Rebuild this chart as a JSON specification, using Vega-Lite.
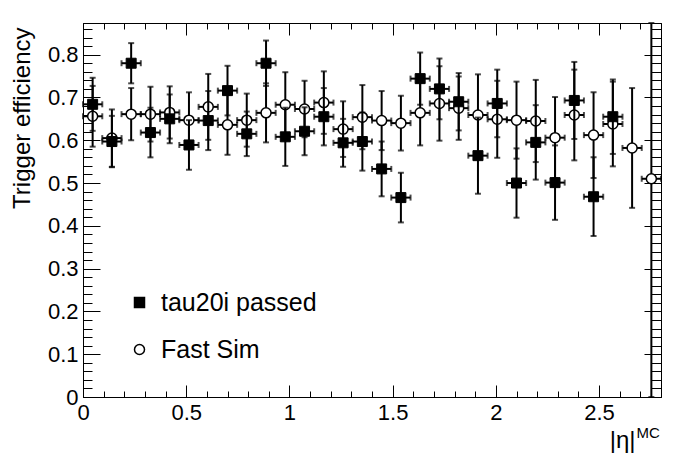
{
  "$schema": "https://vega.github.io/schema/vega-lite/v6.json",
  "autosize": {"type": "none"},
  "padding": {"left": 83, "top": 23, "right": 35, "bottom": 75},
  "width": 578,
  "height": 374,
  "background": "white",
  "config": {
    "view": {"stroke": null},
    "font": "Liberation Sans",
    "axis": {"grid": false, "domainColor": "black", "tickColor": "black", "labelColor": "black", "titleColor": "black", "domainWidth": 1, "tickWidth": 1, "labelFont": "Liberation Sans", "titleFont": "Liberation Sans", "titleFontWeight": "normal", "labelFlush": false, "labelOverlap": false}
  },
  "datasets": {
    "trig": [
      {"eta": 0.0467, "eff": 0.684, "err": 0.062, "xerr": 0.0467, "series": "tau20i passed"},
      {"eta": 0.14, "eff": 0.597, "err": 0.060, "xerr": 0.0467, "series": "tau20i passed"},
      {"eta": 0.2333, "eff": 0.780, "err": 0.047, "xerr": 0.0467, "series": "tau20i passed"},
      {"eta": 0.3267, "eff": 0.618, "err": 0.058, "xerr": 0.0467, "series": "tau20i passed"},
      {"eta": 0.42, "eff": 0.650, "err": 0.057, "xerr": 0.0467, "series": "tau20i passed"},
      {"eta": 0.5133, "eff": 0.589, "err": 0.058, "xerr": 0.0467, "series": "tau20i passed"},
      {"eta": 0.6067, "eff": 0.646, "err": 0.069, "xerr": 0.0467, "series": "tau20i passed"},
      {"eta": 0.70, "eff": 0.716, "err": 0.058, "xerr": 0.0467, "series": "tau20i passed"},
      {"eta": 0.7933, "eff": 0.615, "err": 0.052, "xerr": 0.0467, "series": "tau20i passed"},
      {"eta": 0.8867, "eff": 0.780, "err": 0.053, "xerr": 0.0467, "series": "tau20i passed"},
      {"eta": 0.98, "eff": 0.608, "err": 0.068, "xerr": 0.0467, "series": "tau20i passed"},
      {"eta": 1.0733, "eff": 0.621, "err": 0.056, "xerr": 0.0467, "series": "tau20i passed"},
      {"eta": 1.1667, "eff": 0.655, "err": 0.067, "xerr": 0.0467, "series": "tau20i passed"},
      {"eta": 1.26, "eff": 0.594, "err": 0.056, "xerr": 0.0467, "series": "tau20i passed"},
      {"eta": 1.3533, "eff": 0.597, "err": 0.068, "xerr": 0.0467, "series": "tau20i passed"},
      {"eta": 1.4467, "eff": 0.533, "err": 0.064, "xerr": 0.0467, "series": "tau20i passed"},
      {"eta": 1.54, "eff": 0.466, "err": 0.058, "xerr": 0.0467, "series": "tau20i passed"},
      {"eta": 1.6333, "eff": 0.744, "err": 0.061, "xerr": 0.0467, "series": "tau20i passed"},
      {"eta": 1.7267, "eff": 0.720, "err": 0.071, "xerr": 0.0467, "series": "tau20i passed"},
      {"eta": 1.82, "eff": 0.690, "err": 0.067, "xerr": 0.0467, "series": "tau20i passed"},
      {"eta": 1.9133, "eff": 0.564, "err": 0.089, "xerr": 0.0467, "series": "tau20i passed"},
      {"eta": 2.0067, "eff": 0.686, "err": 0.079, "xerr": 0.0467, "series": "tau20i passed"},
      {"eta": 2.10, "eff": 0.500, "err": 0.081, "xerr": 0.0467, "series": "tau20i passed"},
      {"eta": 2.1933, "eff": 0.595, "err": 0.087, "xerr": 0.0467, "series": "tau20i passed"},
      {"eta": 2.2867, "eff": 0.501, "err": 0.087, "xerr": 0.0467, "series": "tau20i passed"},
      {"eta": 2.38, "eff": 0.693, "err": 0.090, "xerr": 0.0467, "series": "tau20i passed"},
      {"eta": 2.4733, "eff": 0.468, "err": 0.092, "xerr": 0.0467, "series": "tau20i passed"},
      {"eta": 2.5667, "eff": 0.655, "err": 0.087, "xerr": 0.0467, "series": "tau20i passed"}
    ],
    "fast": [
      {"eta": 0.0467, "eff": 0.656, "err": 0.071, "xerr": 0.0467, "series": "Fast Sim"},
      {"eta": 0.14, "eff": 0.605, "err": 0.067, "xerr": 0.0467, "series": "Fast Sim"},
      {"eta": 0.2333, "eff": 0.661, "err": 0.061, "xerr": 0.0467, "series": "Fast Sim"},
      {"eta": 0.3267, "eff": 0.661, "err": 0.064, "xerr": 0.0467, "series": "Fast Sim"},
      {"eta": 0.42, "eff": 0.665, "err": 0.061, "xerr": 0.0467, "series": "Fast Sim"},
      {"eta": 0.5133, "eff": 0.647, "err": 0.065, "xerr": 0.0467, "series": "Fast Sim"},
      {"eta": 0.6067, "eff": 0.678, "err": 0.077, "xerr": 0.0467, "series": "Fast Sim"},
      {"eta": 0.70, "eff": 0.636, "err": 0.070, "xerr": 0.0467, "series": "Fast Sim"},
      {"eta": 0.7933, "eff": 0.647, "err": 0.062, "xerr": 0.0467, "series": "Fast Sim"},
      {"eta": 0.8867, "eff": 0.664, "err": 0.069, "xerr": 0.0467, "series": "Fast Sim"},
      {"eta": 0.98, "eff": 0.683, "err": 0.076, "xerr": 0.0467, "series": "Fast Sim"},
      {"eta": 1.0733, "eff": 0.673, "err": 0.066, "xerr": 0.0467, "series": "Fast Sim"},
      {"eta": 1.1667, "eff": 0.688, "err": 0.073, "xerr": 0.0467, "series": "Fast Sim"},
      {"eta": 1.26, "eff": 0.626, "err": 0.065, "xerr": 0.0467, "series": "Fast Sim"},
      {"eta": 1.3533, "eff": 0.654, "err": 0.075, "xerr": 0.0467, "series": "Fast Sim"},
      {"eta": 1.4467, "eff": 0.646, "err": 0.069, "xerr": 0.0467, "series": "Fast Sim"},
      {"eta": 1.54, "eff": 0.640, "err": 0.064, "xerr": 0.0467, "series": "Fast Sim"},
      {"eta": 1.6333, "eff": 0.664, "err": 0.076, "xerr": 0.0467, "series": "Fast Sim"},
      {"eta": 1.7267, "eff": 0.686, "err": 0.087, "xerr": 0.0467, "series": "Fast Sim"},
      {"eta": 1.82, "eff": 0.675, "err": 0.074, "xerr": 0.0467, "series": "Fast Sim"},
      {"eta": 1.9133, "eff": 0.659, "err": 0.095, "xerr": 0.0467, "series": "Fast Sim"},
      {"eta": 2.0067, "eff": 0.649, "err": 0.090, "xerr": 0.0467, "series": "Fast Sim"},
      {"eta": 2.10, "eff": 0.647, "err": 0.090, "xerr": 0.0467, "series": "Fast Sim"},
      {"eta": 2.1933, "eff": 0.645, "err": 0.096, "xerr": 0.0467, "series": "Fast Sim"},
      {"eta": 2.2867, "eff": 0.606, "err": 0.095, "xerr": 0.0467, "series": "Fast Sim"},
      {"eta": 2.38, "eff": 0.659, "err": 0.106, "xerr": 0.0467, "series": "Fast Sim"},
      {"eta": 2.4733, "eff": 0.612, "err": 0.100, "xerr": 0.0467, "series": "Fast Sim"},
      {"eta": 2.5667, "eff": 0.638, "err": 0.099, "xerr": 0.0467, "series": "Fast Sim"},
      {"eta": 2.66, "eff": 0.582, "err": 0.140, "xerr": 0.0467, "series": "Fast Sim"},
      {"eta": 2.7533, "eff": 0.510, "err": 0.510, "xerr": 0.0467, "series": "Fast Sim"}
    ]
  },
  "resolve": {"axis": {"x": "independent", "y": "independent"}},
  "layer": [
    {
      "data": {"name": "fast"},
      "mark": {"type": "errorbar", "color": "black", "ticks": {"size": 6, "thickness": 2, "color": "black"}, "rule": {"strokeWidth": 2, "color": "black"}},
      "encoding": {
        "x": {"field": "eta", "type": "quantitative", "scale": {"domain": [0, 2.8], "nice": false, "zero": false},
          "axis": {"orient": "bottom", "values": [0, 0.5, 1, 1.5, 2, 2.5], "format": "~g", "tickSize": -12, "labelPadding": 17, "labelFontSize": 22, "title": "|η|", "titleFontSize": 24, "titleAlign": "right", "titleBaseline": "alphabetic", "titleX": 552, "titleY": 50, "titleAngle": 0}},
        "y": {"field": "eff", "type": "quantitative", "scale": {"domain": [0, 0.874], "nice": false, "zero": false, "clamp": true},
          "axis": {"orient": "left", "values": [0, 0.1, 0.2, 0.3, 0.4, 0.5, 0.6, 0.7, 0.8], "format": "~g", "tickSize": -17, "labelPadding": 22, "labelFontSize": 22, "title": "Trigger efficiency", "titleFontSize": 24, "titleAngle": -90, "titleAlign": "right", "titleBaseline": "alphabetic", "titleX": -54, "titleY": 4}},
        "yError": {"field": "err"}
      }
    },
    {
      "data": {"name": "fast"},
      "mark": {"type": "errorbar", "color": "black", "ticks": {"size": 6, "thickness": 2, "color": "black"}, "rule": {"strokeWidth": 2, "color": "black"}},
      "encoding": {
        "x": {"field": "eta", "type": "quantitative",
          "axis": {"orient": "bottom", "values": [0.1, 0.2, 0.3, 0.4, 0.6, 0.7, 0.8, 0.9, 1.1, 1.2, 1.3, 1.4, 1.6, 1.7, 1.8, 1.9, 2.1, 2.2, 2.3, 2.4, 2.6, 2.7], "tickSize": -6, "labels": false, "title": "MC", "titleFontSize": 15, "titleAlign": "left", "titleBaseline": "alphabetic", "titleX": 553, "titleY": 40, "titleAngle": 0}},
        "xError": {"field": "xerr"},
        "y": {"field": "eff", "type": "quantitative",
          "axis": {"orient": "left", "values": [0.02, 0.04, 0.06, 0.08, 0.12, 0.14, 0.16, 0.18, 0.22, 0.24, 0.26, 0.28, 0.32, 0.34, 0.36, 0.38, 0.42, 0.44, 0.46, 0.48, 0.52, 0.54, 0.56, 0.58, 0.62, 0.64, 0.66, 0.68, 0.72, 0.74, 0.76, 0.78, 0.82, 0.84, 0.86], "tickSize": -9, "labels": false, "title": null}}
      }
    },
    {
      "data": {"name": "fast"},
      "mark": {"type": "point", "filled": true, "size": 100, "strokeWidth": 1.5, "opacity": 1},
      "encoding": {
        "x": {"field": "eta", "type": "quantitative", "axis": null},
        "y": {"field": "eff", "type": "quantitative", "axis": null},
        "shape": {"field": "series", "type": "nominal", "scale": {"domain": ["tau20i passed", "Fast Sim"], "range": ["square", "circle"]},
          "legend": {"orient": "none", "legendX": 44, "legendY": 267, "title": null, "padding": 0, "labelFontSize": 25, "labelFont": "Liberation Sans", "labelColor": "black", "symbolSize": 100, "symbolStrokeWidth": 1.5, "rowPadding": 21, "labelOffset": 9}},
        "fill": {"field": "series", "type": "nominal", "scale": {"domain": ["tau20i passed", "Fast Sim"], "range": ["black", "white"]}},
        "stroke": {"field": "series", "type": "nominal", "scale": {"domain": ["tau20i passed", "Fast Sim"], "range": ["black", "black"]}}
      }
    },
    {
      "data": {"name": "trig"},
      "mark": {"type": "errorbar", "color": "black", "ticks": {"size": 6, "thickness": 2, "color": "black"}, "rule": {"strokeWidth": 2, "color": "black"}},
      "encoding": {
        "x": {"field": "eta", "type": "quantitative",
          "axis": {"orient": "top", "values": [0, 0.5, 1, 1.5, 2, 2.5], "tickSize": -12, "labels": false, "title": null}},
        "y": {"field": "eff", "type": "quantitative",
          "axis": {"orient": "right", "values": [0, 0.1, 0.2, 0.3, 0.4, 0.5, 0.6, 0.7, 0.8], "tickSize": -17, "labels": false, "title": null}},
        "yError": {"field": "err"}
      }
    },
    {
      "data": {"name": "trig"},
      "mark": {"type": "errorbar", "color": "black", "ticks": {"size": 6, "thickness": 2, "color": "black"}, "rule": {"strokeWidth": 2, "color": "black"}},
      "encoding": {
        "x": {"field": "eta", "type": "quantitative",
          "axis": {"orient": "top", "values": [0.1, 0.2, 0.3, 0.4, 0.6, 0.7, 0.8, 0.9, 1.1, 1.2, 1.3, 1.4, 1.6, 1.7, 1.8, 1.9, 2.1, 2.2, 2.3, 2.4, 2.6, 2.7], "tickSize": -6, "labels": false, "title": null}},
        "xError": {"field": "xerr"},
        "y": {"field": "eff", "type": "quantitative",
          "axis": {"orient": "right", "values": [0.02, 0.04, 0.06, 0.08, 0.12, 0.14, 0.16, 0.18, 0.22, 0.24, 0.26, 0.28, 0.32, 0.34, 0.36, 0.38, 0.42, 0.44, 0.46, 0.48, 0.52, 0.54, 0.56, 0.58, 0.62, 0.64, 0.66, 0.68, 0.72, 0.74, 0.76, 0.78, 0.82, 0.84, 0.86], "tickSize": -10, "labels": false, "title": null}}
      }
    },
    {
      "data": {"name": "trig"},
      "mark": {"type": "point", "filled": true, "size": 100, "strokeWidth": 1, "opacity": 1},
      "encoding": {
        "x": {"field": "eta", "type": "quantitative", "axis": null},
        "y": {"field": "eff", "type": "quantitative", "axis": null},
        "shape": {"field": "series", "type": "nominal", "scale": {"domain": ["tau20i passed", "Fast Sim"], "range": ["square", "circle"]}},
        "fill": {"field": "series", "type": "nominal", "scale": {"domain": ["tau20i passed", "Fast Sim"], "range": ["black", "white"]}},
        "stroke": {"field": "series", "type": "nominal", "scale": {"domain": ["tau20i passed", "Fast Sim"], "range": ["black", "black"]}}
      }
    }
  ]
}
